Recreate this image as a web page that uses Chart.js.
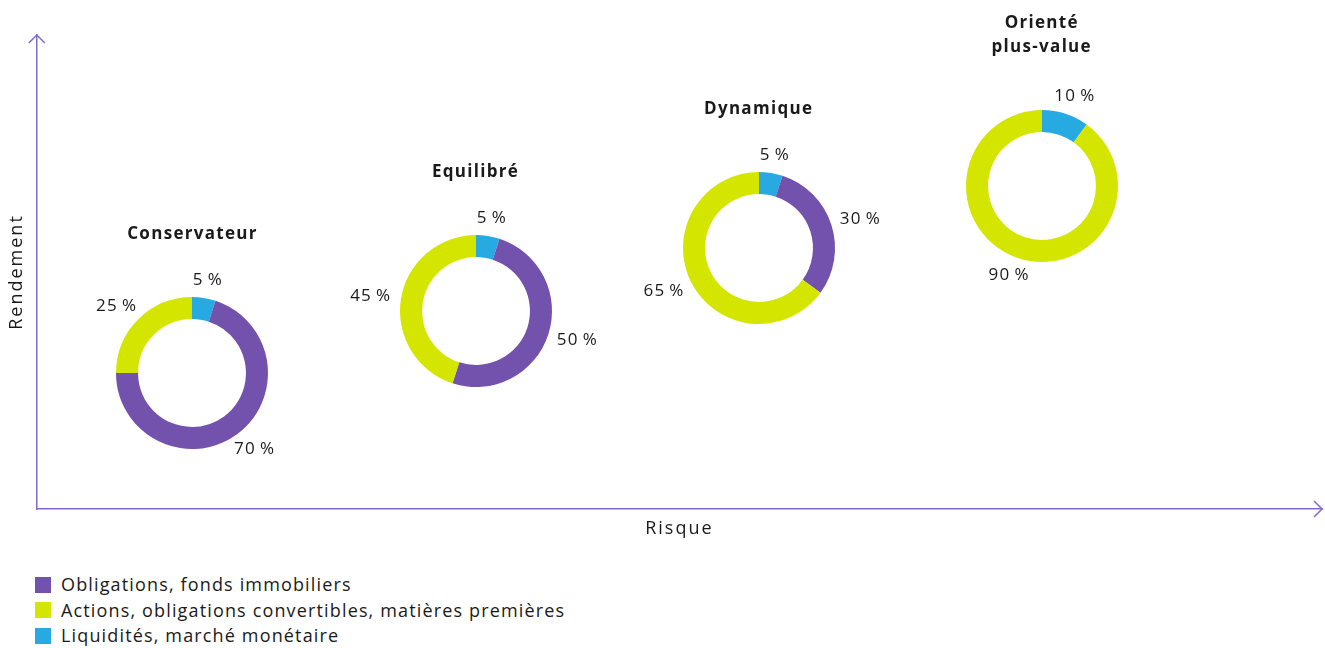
<!DOCTYPE html>
<html lang="fr">
<head>
<meta charset="UTF-8">
<title>Profils de placement</title>
<script src="https://cdn.jsdelivr.net/npm/chart.js@4.4.1/dist/chart.umd.min.js"></script>
<style>
    body { margin: 0; background: #fff; font-family: "Open Sans", sans-serif; color: #1a1a1a; }
    #wrap { position: relative; width: 1325px; height: 648px; overflow: hidden; }
    #axes { position: absolute; left: 0; top: 0; }
    .donut { position: absolute; width: 260px; height: 260px; }
    #legend { position: absolute; left: 35px; top: 572px; font-size: 18px; letter-spacing: 1.15px; }
    #legend div { height: 25.5px; line-height: 25.5px; display: flex; align-items: center; }
    #legend span.box { width: 16px; height: 16px; margin-right: 10px; display: inline-block; }
</style>
</head>
<body>
<div id="wrap">
    <canvas id="axes" width="1325" height="548"></canvas>
    <div id="legend"></div>
</div>

<script>
    // profils (positions risque / rendement sur les axes)
    const profiles = [['Conservateur'], ['Equilibré'], ['Dynamique'], ['Orienté', 'plus-value']];
    const risk = [1, 2, 3, 4];
    const rendement = [1, 2, 3, 4];

    // catégories d'actifs (ordre de la légende)
    const categories = ['Obligations, fonds immobiliers', 'Actions, obligations convertibles, matières premières', 'Liquidités, marché monétaire'];
    const colors = ['#7252ad', '#d4e600', '#27aae1'];

    // répartition en % par profil
    const obligations = [70, 50, 30, 0];
    const actions = [25, 45, 65, 90];
    const liquidites = [5, 5, 5, 10];

    const axisColor = '#8469cc';
    const FONT = '"Open Sans", sans-serif';

    // espacement des lettres pour tout le texte du canvas
    const spacing = px => ({
        id: 'spacing',
        beforeDraw(chart) { chart.ctx.letterSpacing = px; }
    });

    // fleches au bout des axes
    const arrows = {
        id: 'arrows',
        afterDraw(chart) {
            const { ctx, chartArea: a } = chart;
            ctx.save();
            ctx.strokeStyle = axisColor;
            ctx.lineWidth = 1.5;
            ctx.beginPath();
            ctx.moveTo(a.left - 8, a.top + 8); ctx.lineTo(a.left, a.top); ctx.lineTo(a.left + 8, a.top + 8);
            ctx.moveTo(a.right - 8, a.bottom - 8); ctx.lineTo(a.right, a.bottom); ctx.lineTo(a.right - 8, a.bottom + 8);
            ctx.stroke();
            ctx.restore();
        }
    };

    // titres des profils au-dessus de chaque anneau
    const titles = {
        id: 'titles',
        afterDraw(chart) {
            const { ctx, scales } = chart;
            ctx.save();
            ctx.font = 'bold 17px ' + FONT;
            ctx.letterSpacing = '1.3px';
            ctx.fillStyle = '#1a1a1a';
            ctx.textAlign = 'center';
            ctx.textBaseline = 'middle';
            profiles.forEach((lines, i) => {
                const x = scales.x.getPixelForValue(risk[i]);
                const y = scales.y.getPixelForValue(rendement[i]);
                lines.forEach((t, j) => {
                    ctx.fillText(t, x, y - 139 - (lines.length - 1 - j) * 24);
                });
            });
            ctx.restore();
        }
    };

    const axesChart = new Chart(document.getElementById('axes'), {
        type: 'scatter',
        data: { datasets: [{ data: risk.map((r, i) => ({ x: r, y: rendement[i] })), pointRadius: 0 }] },
        options: {
            responsive: false,
            animation: false,
            layout: { padding: { top: 35, right: 3, bottom: 4.4, left: 0 } },
            plugins: { legend: { display: false }, tooltip: { enabled: false } },
            scales: {
                x: {
                    min: 0.45, max: 4.99,
                    grid: { color: 'transparent', drawTicks: false },
                    border: { color: axisColor, width: 1.5 },
                    ticks: { display: false },
                    title: { display: true, text: 'Risque', color: '#1a1a1a', font: { family: FONT, size: 18 }, padding: { top: 9, bottom: 4 } }
                },
                y: {
                    min: -1.18, max: 6.42,
                    grid: { color: 'transparent', drawTicks: false },
                    border: { color: axisColor, width: 1.5 },
                    ticks: { display: false },
                    title: { display: true, text: 'Rendement', color: '#1a1a1a', font: { family: FONT, size: 18 }, padding: { top: 6.2, bottom: 9 } }
                }
            }
        },
        plugins: [spacing('2px'), arrows, titles]
    });

    // etiquettes % autour des anneaux
    const pctLabels = {
        id: 'pctLabels',
        afterDraw(chart) {
            const { ctx } = chart;
            const meta = chart.getDatasetMeta(0);
            const data = chart.data.datasets[0].data;
            ctx.save();
            ctx.font = '17px ' + FONT;
            ctx.letterSpacing = '1.2px';
            ctx.fillStyle = '#1a1a1a';
            ctx.textAlign = 'center';
            ctx.textBaseline = 'middle';
            meta.data.forEach((arc, i) => {
                if (!data[i]) return;
                const p = arc.getProps(['x', 'y', 'startAngle', 'endAngle', 'outerRadius'], true);
                const a = (p.startAngle + p.endAngle) / 2;
                const txt = data[i] + '\u2009%';
                const w = ctx.measureText(txt).width;
                const x = p.x + Math.cos(a) * (p.outerRadius + 10 + w / 2);
                const y = p.y + Math.sin(a) * (p.outerRadius + 18);
                ctx.fillText(txt, x, y);
            });
            ctx.restore();
        }
    };

    const wrap = document.getElementById('wrap');
    profiles.forEach((name, i) => {
        const cx = axesChart.scales.x.getPixelForValue(risk[i]);
        const cy = axesChart.scales.y.getPixelForValue(rendement[i]);
        const div = document.createElement('div');
        div.className = 'donut';
        div.style.left = (cx - 130) + 'px';
        div.style.top = (cy - 130) + 'px';
        const cv = document.createElement('canvas');
        cv.width = 260; cv.height = 260;
        div.appendChild(cv);
        wrap.appendChild(div);
        // ordre horaire depuis le haut : liquidites, obligations, actions
        new Chart(cv, {
            type: 'doughnut',
            data: {
                labels: [categories[2], categories[0], categories[1]],
                datasets: [{
                    data: [liquidites[i], obligations[i], actions[i]],
                    backgroundColor: [colors[2], colors[0], colors[1]],
                    borderWidth: 0
                }]
            },
            options: {
                responsive: false,
                animation: false,
                cutout: '71%',
                layout: { padding: 54 },
                plugins: { legend: { display: false }, tooltip: { enabled: false } }
            },
            plugins: [pctLabels]
        });
    });

    // legende
    const legend = document.getElementById('legend');
    categories.forEach((c, i) => {
        const row = document.createElement('div');
        row.innerHTML = '<span class="box" style="background:' + colors[i] + '"></span>' + c;
        legend.appendChild(row);
    });
</script>
</body>
</html>
